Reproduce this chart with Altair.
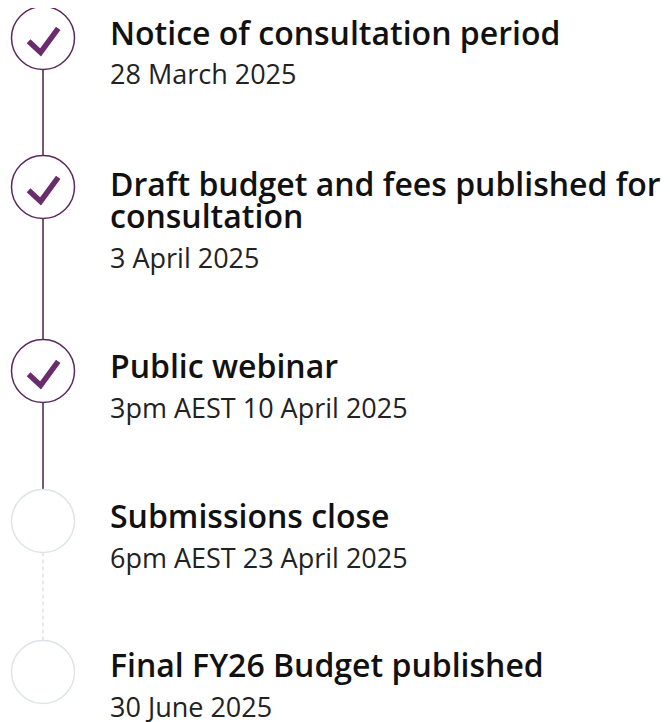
import altair as alt
import pandas as pd

# ---- data ----
titles = [
    "Notice of consultation period",
    "Draft budget and fees published for\nconsultation",
    "Public webinar",
    "Submissions close",
    "Final FY26 Budget published",
]
dates = [
    "28 March 2025",
    "3 April 2025",
    "3pm AEST 10 April 2025",
    "6pm AEST 23 April 2025",
    "30 June 2025",
]
done = [True, True, True, False, False]
step_y = [38, 187, 371, 521, 672]        # circle centres (page px)
title_y = [35, 186, 368, 518, 667]       # first title line centre
date_y = [76, 260, 410, 560, 709]        # date line centre

W, H = 654, 714
R = 31.5
CX = 43

df = pd.DataFrame({
    "title": titles, "date": dates, "done": done,
    "cy": step_y, "ty": title_y, "dy": date_y,
})
df["cx"] = CX
df["tx"] = 110

seg = pd.DataFrame({
    "y1": [step_y[i] + R for i in range(len(step_y) - 1)],
    "y2": [step_y[i + 1] - R for i in range(len(step_y) - 1)],
    "done": [done[i] for i in range(len(step_y) - 1)],
})
seg["cx"] = CX

xs = alt.Scale(domain=[8, 8 + W], range=[0, W])
ys = alt.Scale(domain=[8, 8 + H], range=[0, H])

base = alt.Chart(df)

rule_done = alt.Chart(seg).transform_filter("datum.done").mark_rule(
    color="#4b1f4e", strokeWidth=1.5
).encode(
    x=alt.X("cx:Q", scale=xs, axis=None),
    y=alt.Y("y1:Q", scale=ys, axis=None),
    y2="y2:Q",
)
rule_todo = alt.Chart(seg).transform_filter("!datum.done").mark_rule(
    color="#d6dce1", strokeWidth=1.2, strokeDash=[4, 3]
).encode(
    x=alt.X("cx:Q", scale=xs, axis=None),
    y=alt.Y("y1:Q", scale=ys, axis=None),
    y2="y2:Q",
)

circ_done = base.transform_filter("datum.done").mark_point(
    shape="circle", size=(2 * R) ** 2, filled=False,
    stroke="#5a2a5d", strokeWidth=1.5, opacity=1
).encode(
    x=alt.X("cx:Q", scale=xs, axis=None),
    y=alt.Y("cy:Q", scale=ys, axis=None),
)
circ_todo = base.transform_filter("!datum.done").mark_point(
    shape="circle", size=(2 * R) ** 2, filled=False,
    stroke="#dfe4e8", strokeWidth=1.5, opacity=1
).encode(
    x=alt.X("cx:Q", scale=xs, axis=None),
    y=alt.Y("cy:Q", scale=ys, axis=None),
)

check = base.transform_filter("datum.done").mark_point(
    shape="M-0.9,0.2 L-0.15,0.9 L0.95,-0.6",
    size=32 ** 2, filled=False, stroke="#6b2c6e", strokeWidth=5.5,
    strokeJoin="miter", strokeCap="butt", opacity=1
).encode(
    x=alt.X("cx:Q", scale=xs, axis=None),
    y=alt.Y("cy:Q", scale=ys, axis=None),
)

title_txt = base.mark_text(
    align="left", baseline="middle", font="Open Sans", fontSize=32,
    fontWeight=600, color="#111111", lineBreak="\n", lineHeight=32
).encode(
    x=alt.X("tx:Q", scale=xs, axis=None),
    y=alt.Y("ty:Q", scale=ys, axis=None),
    text="title:N",
)
date_txt = base.mark_text(
    align="left", baseline="middle", font="Open Sans", fontSize=27,
    color="#222222"
).encode(
    x=alt.X("tx:Q", scale=xs, axis=None),
    y=alt.Y("dy:Q", scale=ys, axis=None),
    text="date:N",
)

chart = alt.layer(
    rule_done, rule_todo, circ_done, circ_todo, check, title_txt, date_txt
).properties(
    width=W, height=H, padding=0, autosize=alt.AutoSizeParams(type="none")
).configure_view(stroke=None)

chart.save("out.html", embed_options={"renderer": "svg", "actions": False})
